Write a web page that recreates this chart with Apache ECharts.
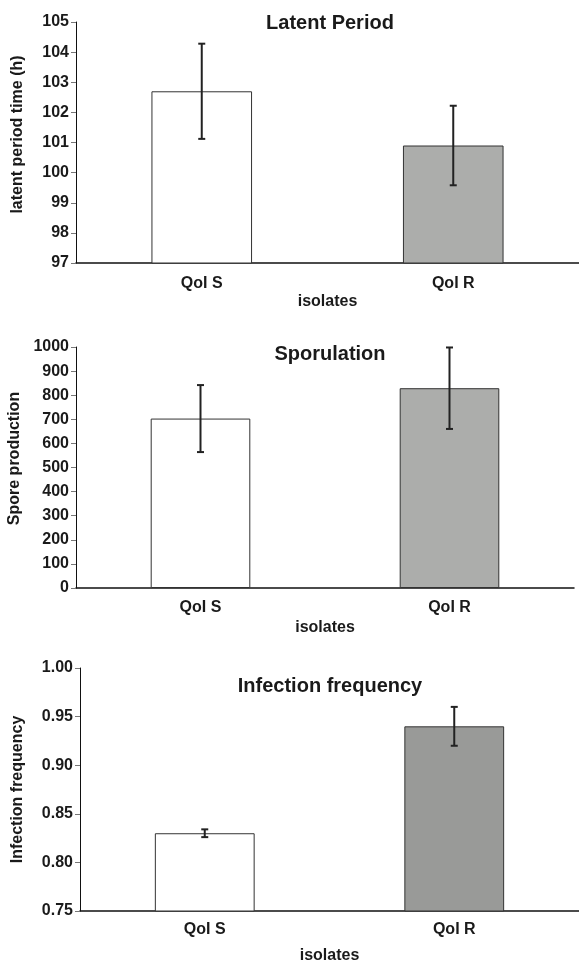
<!DOCTYPE html>
<html>
<head>
<meta charset="utf-8">
<script src="https://cdn.jsdelivr.net/npm/echarts@6/dist/echarts.min.js"></script>
<style>
  html, body { margin: 0; padding: 0; background: #fff; }
  #main { width: 579px; height: 968px; }
</style>
</head>
<body>
<div id="main"></div>
<script>
var categories = ['QoI S', 'QoI R'];

// latent period
var latentMean = [102.7, 100.9];
var latentErr = [1.58, 1.32];
var latentTicks = [97, 105, 1];

// sporulation
var sporeMean = [703, 829];
var sporeErr = [139, 169];
var sporeTicks = [0, 1000, 100];

// infection frequency
var infMean = [0.83, 0.94];
var infErr = [0.004, 0.02];
var infTicks = [0.75, 1.0, 0.05];

var titles = ['Latent Period', 'Sporulation', 'Infection frequency'];
var yNames = ['latent period time (h)', 'Spore production', 'Infection frequency'];
var yDecimals = [0, 0, 2];

(function () {
    var myChart = echarts.init(document.getElementById('main'));
    var font = '"Liberation Sans", Arial, sans-serif';
    var txt = '#1a1a1a';

    function errData(mean, err) {
        return mean.map(function (m, i) { return [i, m - err[i], m + err[i]]; });
    }

    function errorSeries(idx, data) {
        return {
            type: 'custom',
            xAxisIndex: idx,
            yAxisIndex: idx,
            z: 10,
            data: data,
            renderItem: function (params, api) {
                var lo = api.coord([api.value(0), api.value(1)]);
                var hi = api.coord([api.value(0), api.value(2)]);
                var w = 3.5;
                var st = { stroke: '#222', lineWidth: 2 };
                return {
                    type: 'group',
                    children: [
                        { type: 'line', shape: { x1: hi[0], y1: hi[1], x2: lo[0], y2: lo[1] }, style: st },
                        { type: 'line', shape: { x1: hi[0] - w, y1: hi[1], x2: hi[0] + w, y2: hi[1] }, style: st },
                        { type: 'line', shape: { x1: lo[0] - w, y1: lo[1], x2: lo[0] + w, y2: lo[1] }, style: st }
                    ]
                };
            }
        };
    }

    function barSeries(idx, mean, grey) {
        return {
            type: 'bar',
            xAxisIndex: idx,
            yAxisIndex: idx,
            barWidth: '40%',
            data: mean.map(function (v, i) {
                return {
                    value: v,
                    itemStyle: { color: i === 0 ? '#ffffff' : grey, borderColor: '#333', borderWidth: 1 }
                };
            })
        };
    }

    var grids = [
        { left: 76, right: 0, top: 22, height: 241, outerBoundsMode: 'none' },
        { left: 76, right: 5, top: 347, height: 241, outerBoundsMode: 'none' },
        { left: 80, right: 0, top: 668, height: 243, outerBoundsMode: 'none' }
    ];
    var xGaps = [[13, 31], [12, 32], [11, 37]];
    var ticks = [latentTicks, sporeTicks, infTicks];
    var titleTops = [8, 339, 671];
    var nameGaps = [50, 50, 54];
    var namePads = [[0, 0, 0, 16], [0, 0, 0, 18], [0, 0, 0, 0]];

    var xAxes = [], yAxes = [];
    for (var i = 0; i < 3; i++) {
        xAxes.push({
            type: 'category',
            gridIndex: i,
            data: categories,
            name: 'isolates',
            nameLocation: 'middle',
            nameGap: xGaps[i][1],
            nameTextStyle: { fontFamily: font, fontWeight: 'bold', fontSize: 16, color: txt },
            axisLine: { lineStyle: { color: '#111', width: 1.5 } },
            axisTick: { length: 5, lineStyle: { color: '#777' } },
            axisLabel: { margin: xGaps[i][0], fontFamily: font, fontWeight: 'bold', fontSize: 16, color: txt }
        });
        yAxes.push({
            type: 'value',
            gridIndex: i,
            min: ticks[i][0],
            max: ticks[i][1],
            interval: ticks[i][2],
            name: yNames[i],
            nameLocation: 'middle',
            nameGap: nameGaps[i],
            nameTextStyle: { fontFamily: font, fontWeight: 'bold', fontSize: 16, color: txt, padding: namePads[i] },
            splitLine: { show: false },
            axisLine: { show: true, lineStyle: { color: '#111', width: 1 } },
            axisTick: { show: true, length: 5, lineStyle: { color: '#777' } },
            axisLabel: {
                margin: 7,
                fontFamily: font, fontWeight: 'bold', fontSize: 16, color: txt,
                formatter: (function (d) { return function (v) { return v.toFixed(d); }; })(yDecimals[i])
            }
        });
    }

    var option = {
        animation: false,
        title: titles.map(function (t, i) {
            return {
                text: t,
                left: 325,
                top: titleTops[i],
                textAlign: 'center',
                textStyle: { fontFamily: font, fontWeight: 'bold', fontSize: 20, color: txt }
            };
        }),
        grid: grids,
        xAxis: xAxes,
        yAxis: yAxes,
        series: [
            barSeries(0, latentMean, '#acadab'),
            errorSeries(0, errData(latentMean, latentErr)),
            barSeries(1, sporeMean, '#acadab'),
            errorSeries(1, errData(sporeMean, sporeErr)),
            barSeries(2, infMean, '#999a98'),
            errorSeries(2, errData(infMean, infErr))
        ]
    };

    myChart.setOption(option);
})();
</script>
</body>
</html>
